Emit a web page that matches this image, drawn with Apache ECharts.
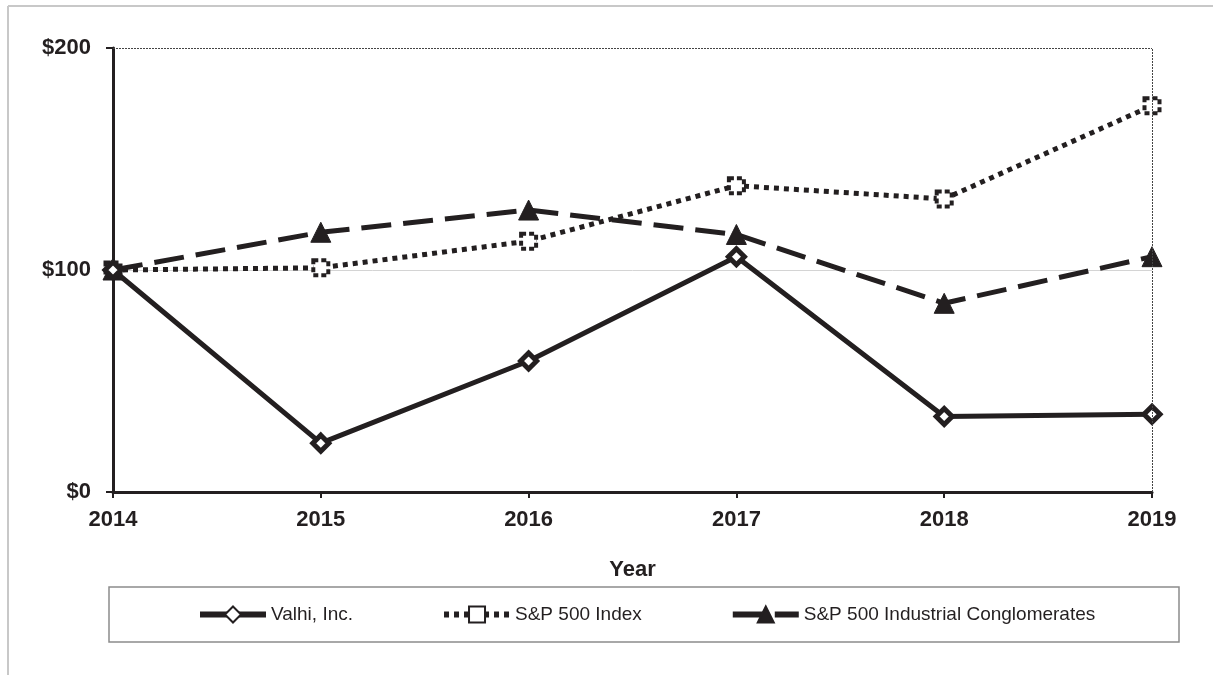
<!DOCTYPE html>
<html>
<head>
<meta charset="utf-8">
<script src="https://cdn.jsdelivr.net/npm/echarts@6/dist/echarts.min.js"></script>
<style>
  html, body { margin: 0; padding: 0; background: #fff; }
  #chart { width: 1213px; height: 675px; }
</style>
</head>
<body>
<div id="chart"></div>
<script>
const years = ['2014', '2015', '2016', '2017', '2018', '2019'];
const valhi = [100, 22, 59, 106, 34, 35];
const sp500 = [100, 101, 113, 138, 132, 174];
const conglomerates = [100, 117, 127, 116, 85, 106];
const seriesNames = ['Valhi, Inc.', 'S&P 500 Index', 'S&P 500 Industrial Conglomerates'];

const ink = '#231f20';
const chart = echarts.init(document.getElementById('chart'));

const option = {
  animation: false,
  textStyle: { fontFamily: 'Liberation Sans, Arial, sans-serif', color: ink },
  grid: { left: 113, right: 61, top: 48, bottom: 183 },
  graphic: [
    // page frame (top + left)
    { type: 'line', shape: { x1: 8, y1: 6, x2: 1213, y2: 6 }, style: { stroke: '#c8c8c8', lineWidth: 2 } },
    { type: 'line', shape: { x1: 8, y1: 6, x2: 8, y2: 675 }, style: { stroke: '#c8c8c8', lineWidth: 2 } },
    // legend box
    { type: 'rect', shape: { x: 109, y: 587, width: 1070, height: 55 }, style: { fill: 'none', stroke: '#8c8c8c', lineWidth: 1.5 } }
  ],
  legend: {
    left: 197,
    top: 605,
    padding: 0,
    itemWidth: 66,
    itemHeight: 20,
    itemGap: 88,
    lineStyle: { width: 6 },
    textStyle: { fontSize: 19, color: ink, fontFamily: 'Liberation Sans, Arial, sans-serif' },
    data: seriesNames
  },
  xAxis: {
    type: 'category',
    data: years,
    boundaryGap: false,
    name: 'Year',
    nameLocation: 'middle',
    nameGap: 67,
    nameTextStyle: { fontSize: 22, fontWeight: 'bold', color: ink },
    axisLine: { lineStyle: { color: ink, width: 3 } },
    axisTick: { show: true, length: 6, lineStyle: { color: ink, width: 2 } },
    axisLabel: { fontSize: 22, fontWeight: 'bold', color: ink, margin: 17 },
    splitLine: { show: false }
  },
  yAxis: {
    type: 'value',
    min: 0,
    max: 200,
    interval: 100,
    axisLine: { show: true, lineStyle: { color: ink, width: 3 } },
    axisTick: { show: true, length: 7, lineStyle: { color: ink, width: 2 } },
    axisLabel: { fontSize: 22, fontWeight: 'bold', color: ink, margin: 22, formatter: v => '$' + v },
    splitLine: { show: true, lineStyle: { color: ['transparent', '#d4d4d4', 'transparent'], width: 1 } }
  },
  series: [
    {
      name: seriesNames[0],
      type: 'line',
      data: valhi,
      symbol: 'diamond',
      symbolSize: 16,
      z: 4,
      lineStyle: { color: ink, width: 5, type: 'solid' },
      itemStyle: { color: '#fff', borderColor: ink, borderWidth: 5 },
      markLine: {
        silent: true,
        symbol: 'none',
        label: { show: false },
        lineStyle: { color: '#444', width: 1, type: [2, 1] },
        data: [{ yAxis: 200 }, { xAxis: '2019' }]
      }
    },
    {
      name: seriesNames[1],
      type: 'line',
      data: sp500,
      symbol: 'rect',
      symbolSize: 15,
      z: 3,
      lineStyle: { color: ink, width: 5, type: [5, 5] },
      itemStyle: { color: '#fff', borderColor: ink, borderWidth: 4, borderType: [5, 3] }
    },
    {
      name: seriesNames[2],
      type: 'line',
      data: conglomerates,
      symbol: 'triangle',
      symbolSize: 20,
      z: 3,
      lineStyle: { color: ink, width: 5, type: [30, 12] },
      itemStyle: { color: ink, borderColor: ink, borderWidth: 1 }
    }
  ]
};

chart.setOption(option);
</script>
</body>
</html>
